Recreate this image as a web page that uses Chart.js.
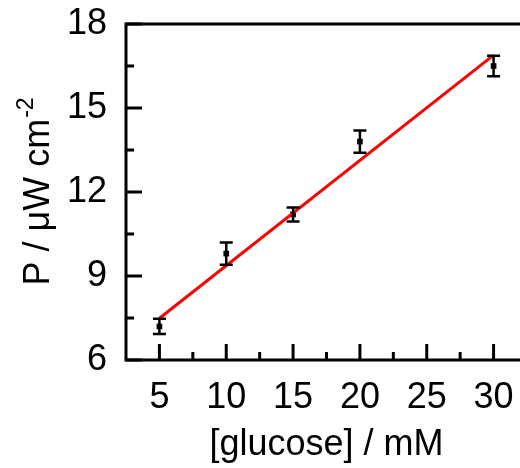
<!DOCTYPE html>
<html>
<head>
<meta charset="utf-8">
<script src="https://cdn.jsdelivr.net/npm/chart.js@4.4.1/dist/chart.umd.min.js"></script>
<style>
  html, body { margin: 0; padding: 0; background: #fff; overflow: hidden; }
  canvas { display: block; }
</style>
</head>
<body>
<canvas id="powerChart" width="560" height="468"></canvas>
<script>
// --- 1. DATA ---
const glucose  = [5, 10, 15, 20, 30];            // mM
const power    = [7.2, 9.8, 11.2, 13.8, 16.5];   // uW cm-2
const powerErr = [0.27, 0.4, 0.25, 0.4, 0.37];
const fitX = [5, 30];
const fitY = [7.49, 16.89];
const xTicks = [5, 10, 15, 20, 25, 30];
const yTicks = [6, 9, 12, 15, 18];
const xMinor = [7.5, 12.5, 17.5, 22.5, 27.5];
const yMinor = [7.5, 10.5, 13.5, 16.5];

const FONT = '"Liberation Sans", Arial, sans-serif';

// --- 2. FRAME, INWARD TICKS, ERROR BARS, Y TITLE ---
const frameAndTicks = {
    id: 'frameAndTicks',
    afterDatasetsDraw(chart) {
        const { ctx, scales: { x, y } } = chart;
        ctx.save();
        ctx.strokeStyle = '#000';
        ctx.lineWidth = 2.5;
        glucose.forEach((g, i) => {
            const px = x.getPixelForValue(g);
            const yTop = y.getPixelForValue(power[i] + powerErr[i]);
            const yBot = y.getPixelForValue(power[i] - powerErr[i]);
            ctx.beginPath();
            ctx.moveTo(px, yTop); ctx.lineTo(px, yBot);
            ctx.moveTo(px - 6.5, yTop); ctx.lineTo(px + 6.5, yTop);
            ctx.moveTo(px - 6.5, yBot); ctx.lineTo(px + 6.5, yBot);
            ctx.stroke();
        });
        ctx.restore();
    },
    afterDraw(chart) {
        const { ctx, chartArea: a, scales: { x, y } } = chart;
        ctx.save();
        ctx.strokeStyle = '#000';
        ctx.lineWidth = 3;
        ctx.lineCap = 'square';
        ctx.strokeRect(a.left, a.top, a.right - a.left, a.bottom - a.top);

        ctx.lineCap = 'butt';
        ctx.beginPath();
        const xTick = (v, len) => {
            const px = x.getPixelForValue(v);
            ctx.moveTo(px, a.bottom); ctx.lineTo(px, a.bottom - len);
        };
        const yTick = (v, len) => {
            const py = y.getPixelForValue(v);
            ctx.moveTo(a.left, py); ctx.lineTo(a.left + len, py);
        };
        xTicks.forEach(v => xTick(v, 16));
        xMinor.forEach(v => xTick(v, 8));
        yTicks.forEach(v => yTick(v, 16));
        yMinor.forEach(v => yTick(v, 8));
        ctx.stroke();

        // y title with superscript
        const main = 'P / \u03BCW cm';
        const sup = '-2';
        ctx.fillStyle = '#000';
        ctx.textAlign = 'left';
        ctx.textBaseline = 'alphabetic';
        ctx.font = '36px ' + FONT;
        const wMain = ctx.measureText(main).width;
        ctx.font = '23px ' + FONT;
        const wSup = ctx.measureText(sup).width;
        ctx.translate(49, (a.top + a.bottom) / 2);
        ctx.rotate(-Math.PI / 2);
        const start = -(wMain + wSup) / 2;
        ctx.font = '36px ' + FONT;
        ctx.fillText(main, start, 0);
        ctx.font = '23px ' + FONT;
        ctx.fillText(sup, start + wMain + 1, -16);
        ctx.restore();
    }
};

// --- 3. CHART ---
function initChart() {
    new Chart(document.getElementById('powerChart'), {
        type: 'scatter',
        data: {
            datasets: [
                {
                    label: 'fit',
                    type: 'line',
                    data: fitX.map((v, i) => ({ x: v, y: fitY[i] })),
                    borderColor: '#ff0000',
                    borderWidth: 3,
                    pointRadius: 0,
                    fill: false
                },
                {
                    label: 'P',
                    data: glucose.map((v, i) => ({ x: v, y: power[i] })),
                    pointStyle: 'rect',
                    pointRadius: 4,
                    backgroundColor: '#000',
                    borderColor: '#000',
                    borderWidth: 0
                }
            ]
        },
        options: {
            responsive: false,
            animation: false,
            events: [],
            layout: { padding: { top: 24, right: 33, left: 0, bottom: 0 } },
            plugins: { legend: { display: false }, tooltip: { enabled: false } },
            scales: {
                x: {
                    type: 'linear',
                    min: 2.5,
                    max: 32.5,
                    afterBuildTicks: s => { s.ticks = xTicks.map(v => ({ value: v })); },
                    afterFit: s => { s.height = 108; s.paddingLeft = 0; s.paddingRight = 0; },
                    grid: { display: false, drawTicks: false, tickLength: 0 },
                    border: { display: false },
                    ticks: {
                        color: '#000',
                        font: { family: FONT, size: 36 },
                        padding: 16,
                        maxRotation: 0,
                        autoSkip: false
                    },
                    title: {
                        display: true,
                        text: '[glucose] / mM',
                        color: '#000',
                        font: { family: FONT, size: 36 },
                        padding: { top: 0, bottom: 1 }
                    }
                },
                y: {
                    type: 'linear',
                    min: 6,
                    max: 18,
                    afterBuildTicks: s => { s.ticks = yTicks.map(v => ({ value: v })); },
                    afterFit: s => { s.width = 126; s.paddingTop = 0; s.paddingBottom = 0; },
                    grid: { display: false, drawTicks: false, tickLength: 0 },
                    border: { display: false },
                    ticks: {
                        color: '#000',
                        font: { family: FONT, size: 36 },
                        padding: 19,
                        autoSkip: false
                    }
                }
            }
        },
        plugins: [frameAndTicks]
    });
}

window.onload = initChart;
</script>
</body>
</html>
